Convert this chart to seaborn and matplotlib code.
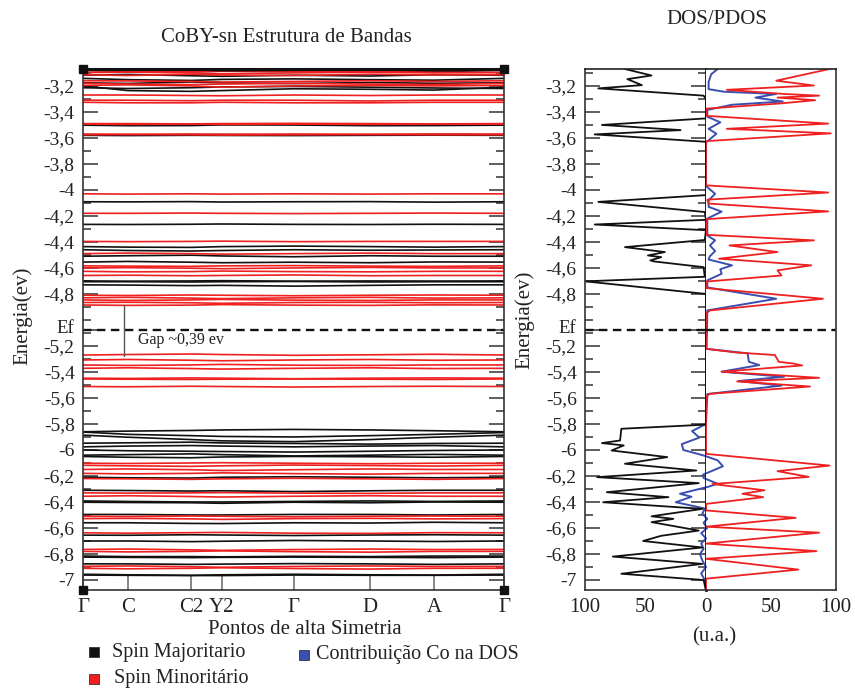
import numpy as np
import pandas as pd
import matplotlib
matplotlib.use("Agg")
import matplotlib.pyplot as plt
from matplotlib.patches import Rectangle
from matplotlib.ticker import FixedLocator, MultipleLocator, FuncFormatter
from matplotlib.transforms import ScaledTranslation
import seaborn as sns

# ---------------- data ----------------
E_F = -5.078
E_MIN, E_MAX = -7.077, -3.07

kpath = [0.0, 0.107, 0.257, 0.330, 0.501, 0.682, 0.834, 1.0]
klabels = ["Γ", "C", "C2", "Y2", "Γ", "D", "A", "Γ"]

# band energies (eV) at the high-symmetry points, spin majority
bands_major = [
    [-3.080, -3.088, -3.092, -3.086, -3.090, -3.084, -3.091, -3.080],
    [-3.118, -3.112, -3.122, -3.126, -3.118, -3.124, -3.114, -3.118],
    [-3.142, -3.152, -3.158, -3.150, -3.146, -3.152, -3.156, -3.142],
    [-3.176, -3.181, -3.170, -3.176, -3.182, -3.174, -3.180, -3.176],
    [-3.200, -3.236, -3.242, -3.236, -3.222, -3.226, -3.232, -3.210],
    [-3.214, -3.220, -3.214, -3.208, -3.204, -3.210, -3.216, -3.220],
    [-3.502, -3.506, -3.505, -3.500, -3.501, -3.506, -3.505, -3.502],
    [-3.576, -3.578, -3.575, -3.574, -3.578, -3.576, -3.574, -3.576],
    [-3.580, -3.582, -3.580, -3.581, -3.582, -3.580, -3.579, -3.580],
    [-4.091, -4.092, -4.090, -4.093, -4.091, -4.090, -4.094, -4.091],
    [-4.265, -4.266, -4.264, -4.262, -4.265, -4.266, -4.264, -4.265],
    [-4.436, -4.440, -4.442, -4.436, -4.432, -4.436, -4.440, -4.436],
    [-4.460, -4.466, -4.470, -4.466, -4.460, -4.464, -4.462, -4.460],
    [-4.510, -4.506, -4.502, -4.508, -4.514, -4.506, -4.510, -4.510],
    [-4.555, -4.550, -4.556, -4.560, -4.556, -4.560, -4.554, -4.555],
    [-4.700, -4.702, -4.700, -4.698, -4.702, -4.700, -4.701, -4.700],
    [-4.706, -4.706, -4.708, -4.706, -4.704, -4.708, -4.706, -4.706],
    [-4.730, -4.732, -4.736, -4.734, -4.740, -4.734, -4.730, -4.730],
    [-5.860, -5.855, -5.850, -5.846, -5.842, -5.846, -5.852, -5.860],
    [-5.862, -5.880, -5.890, -5.896, -5.900, -5.890, -5.880, -5.866],
    [-5.886, -5.902, -5.920, -5.930, -5.936, -5.920, -5.902, -5.886],
    [-5.948, -5.945, -5.940, -5.946, -5.950, -5.955, -5.950, -5.948],
    [-5.976, -5.970, -5.966, -5.970, -5.976, -5.970, -5.966, -5.976],
    [-6.000, -6.006, -6.010, -6.012, -6.016, -6.010, -6.004, -6.000],
    [-6.040, -6.036, -6.030, -6.036, -6.046, -6.040, -6.034, -6.040],
    [-6.050, -6.056, -6.060, -6.054, -6.050, -6.052, -6.056, -6.050],
    [-6.210, -6.214, -6.216, -6.210, -6.206, -6.210, -6.214, -6.210],
    [-6.310, -6.312, -6.316, -6.314, -6.320, -6.314, -6.310, -6.310],
    [-6.392, -6.396, -6.400, -6.400, -6.396, -6.392, -6.396, -6.392],
    [-6.402, -6.404, -6.406, -6.410, -6.402, -6.406, -6.400, -6.402],
    [-6.496, -6.496, -6.500, -6.500, -6.496, -6.496, -6.500, -6.496],
    [-6.560, -6.560, -6.565, -6.566, -6.560, -6.562, -6.556, -6.560],
    [-6.655, -6.656, -6.652, -6.654, -6.658, -6.654, -6.652, -6.655],
    [-6.700, -6.700, -6.705, -6.702, -6.696, -6.700, -6.704, -6.700],
    [-6.816, -6.820, -6.820, -6.822, -6.818, -6.820, -6.816, -6.816],
    [-6.824, -6.826, -6.828, -6.826, -6.824, -6.826, -6.828, -6.824],
    [-6.876, -6.876, -6.880, -6.878, -6.874, -6.876, -6.880, -6.876],
    [-6.956, -6.960, -6.964, -6.960, -6.956, -6.960, -6.962, -6.956],
    [-6.962, -6.964, -6.966, -6.966, -6.962, -6.964, -6.964, -6.962],
]

# band energies (eV) at the high-symmetry points, spin minority
bands_minor = [
    [-3.082, -3.086, -3.090, -3.082, -3.086, -3.090, -3.082, -3.082],
    [-3.098, -3.094, -3.100, -3.106, -3.100, -3.094, -3.100, -3.098],
    [-3.114, -3.120, -3.110, -3.116, -3.120, -3.110, -3.116, -3.114],
    [-3.160, -3.162, -3.166, -3.170, -3.166, -3.160, -3.166, -3.160],
    [-3.180, -3.186, -3.190, -3.186, -3.180, -3.186, -3.190, -3.180],
    [-3.196, -3.192, -3.200, -3.210, -3.200, -3.196, -3.200, -3.196],
    [-3.270, -3.270, -3.274, -3.276, -3.270, -3.274, -3.270, -3.270],
    [-3.310, -3.310, -3.314, -3.310, -3.310, -3.316, -3.310, -3.310],
    [-3.326, -3.330, -3.330, -3.326, -3.330, -3.330, -3.326, -3.326],
    [-3.490, -3.490, -3.492, -3.490, -3.488, -3.490, -3.492, -3.490],
    [-3.494, -3.496, -3.494, -3.496, -3.494, -3.496, -3.494, -3.494],
    [-3.570, -3.572, -3.570, -3.572, -3.570, -3.572, -3.570, -3.570],
    [-3.576, -3.574, -3.576, -3.578, -3.576, -3.574, -3.576, -3.576],
    [-4.030, -4.032, -4.030, -4.032, -4.030, -4.032, -4.030, -4.030],
    [-4.180, -4.180, -4.178, -4.180, -4.182, -4.180, -4.178, -4.180],
    [-4.396, -4.398, -4.396, -4.394, -4.398, -4.396, -4.396, -4.396],
    [-4.490, -4.486, -4.490, -4.494, -4.490, -4.486, -4.490, -4.490],
    [-4.584, -4.586, -4.588, -4.584, -4.582, -4.586, -4.588, -4.584],
    [-4.600, -4.598, -4.602, -4.606, -4.600, -4.596, -4.600, -4.600],
    [-4.626, -4.630, -4.628, -4.624, -4.628, -4.630, -4.626, -4.626],
    [-4.658, -4.656, -4.660, -4.658, -4.654, -4.660, -4.658, -4.658],
    [-4.810, -4.812, -4.808, -4.810, -4.814, -4.810, -4.808, -4.810],
    [-4.830, -4.826, -4.832, -4.836, -4.830, -4.826, -4.832, -4.830],
    [-4.846, -4.850, -4.846, -4.842, -4.848, -4.850, -4.846, -4.846],
    [-4.866, -4.864, -4.868, -4.872, -4.866, -4.864, -4.868, -4.866],
    [-4.885, -4.888, -4.886, -4.882, -4.886, -4.888, -4.884, -4.885],
    [-5.270, -5.266, -5.262, -5.266, -5.272, -5.268, -5.264, -5.270],
    [-5.308, -5.304, -5.310, -5.314, -5.308, -5.304, -5.310, -5.308],
    [-5.346, -5.350, -5.346, -5.342, -5.348, -5.350, -5.346, -5.346],
    [-5.372, -5.368, -5.374, -5.378, -5.372, -5.368, -5.374, -5.372],
    [-5.448, -5.450, -5.446, -5.448, -5.452, -5.448, -5.446, -5.448],
    [-5.454, -5.456, -5.458, -5.456, -5.454, -5.456, -5.458, -5.454],
    [-5.512, -5.514, -5.510, -5.512, -5.516, -5.512, -5.510, -5.512],
    [-6.102, -6.104, -6.100, -6.098, -6.102, -6.106, -6.102, -6.102],
    [-6.118, -6.122, -6.126, -6.122, -6.116, -6.120, -6.124, -6.118],
    [-6.150, -6.146, -6.152, -6.158, -6.152, -6.146, -6.150, -6.150],
    [-6.180, -6.184, -6.180, -6.176, -6.182, -6.186, -6.180, -6.180],
    [-6.220, -6.222, -6.226, -6.222, -6.218, -6.222, -6.226, -6.220],
    [-6.330, -6.332, -6.330, -6.328, -6.332, -6.334, -6.330, -6.330],
    [-6.356, -6.352, -6.358, -6.362, -6.356, -6.352, -6.356, -6.356],
    [-6.510, -6.512, -6.508, -6.510, -6.514, -6.510, -6.508, -6.510],
    [-6.528, -6.526, -6.530, -6.534, -6.528, -6.526, -6.530, -6.528],
    [-6.637, -6.640, -6.636, -6.634, -6.640, -6.642, -6.636, -6.637],
    [-6.765, -6.762, -6.768, -6.772, -6.766, -6.762, -6.766, -6.765],
    [-6.780, -6.784, -6.780, -6.776, -6.782, -6.786, -6.780, -6.780],
    [-6.895, -6.892, -6.898, -6.902, -6.896, -6.892, -6.896, -6.895],
    [-6.910, -6.914, -6.910, -6.906, -6.912, -6.916, -6.910, -6.910],
]

# total DOS, spin majority (plotted to the left)
dos_major_E = [-3.07, -3.12, -3.148, -3.194, -3.219, -3.275, -3.30, -3.45, -3.50, -3.54,
               -3.573, -3.63, -4.04, -4.092, -4.17, -4.23, -4.266, -4.31, -4.385, -4.44,
               -4.478, -4.504, -4.517, -4.542, -4.55, -4.594, -4.668, -4.703, -4.80, -5.805,
               -5.837, -5.927, -5.947, -5.965, -6.004, -6.055, -6.106, -6.158, -6.209, -6.255,
               -6.325, -6.363, -6.402, -6.453, -6.51, -6.53, -6.555, -6.62, -6.66, -6.70,
               -6.75, -6.82, -6.876, -6.952, -7.0, -7.08]
dos_major = [-67, -45, -65, -53, -89, -2, 0, 0, -86, -21,
             -92, 0, 0, -89, -1, 0, -92, 0, -1, -67,
             -34, -48, -37, -46, -43, -2, -1, -100, 0, 0,
             -70, -71, -86, -68, -78, -32, -67, -8, -90, -6,
             -82, -31, -85, -3, -45, -27, -45, -6, -37, -52,
             -3, -77, -3, -70, -2, 0]

# total DOS, spin minority (plotted to the right)
dos_minor_E = [-3.07, -3.16, -3.197, -3.23, -3.262, -3.275, -3.29, -3.31, -3.335, -3.375,
               -3.43, -3.49, -3.53, -3.565, -3.625, -3.965, -4.02, -4.075, -4.105, -4.165,
               -4.225, -4.345, -4.388, -4.427, -4.478, -4.529, -4.58, -4.619, -4.658, -4.705,
               -4.755, -4.837, -4.927, -4.95, -5.222, -5.25, -5.27, -5.322, -5.335, -5.35,
               -5.398, -5.445, -5.473, -5.512, -5.568, -5.59, -6.03, -6.12, -6.163, -6.207,
               -6.262, -6.31, -6.337, -6.363, -6.415, -6.465, -6.522, -6.59, -6.636, -6.72,
               -6.778, -6.837, -6.92, -6.99, -7.08]
dos_minor = [95, 54, 83, 16, 60, 87, 55, 84, 57, 0,
             0, 94, 16, 96, 0, 0, 94, 1, 2, 94,
             0, 0, 83, 18, 55, 10, 81, 55, 58, 0,
             0, 90, 3, 0, 0, 23, 53, 56, 67, 74,
             12, 87, 24, 80, 3, 0, 0, 95, 55, 79,
             5, 45, 28, 44, 0, 0, 69, 0, 87, 0,
             85, 0, 71, 0, 0]

# Co projected DOS (minority positive, majority negative)
pdos_co_E = [-3.07, -3.11, -3.17, -3.225, -3.245, -3.262, -3.29, -3.32, -3.345, -3.385,
             -3.437, -3.48, -3.53, -3.568, -3.635, -3.97, -4.03, -4.08, -4.13, -4.167,
             -4.22, -4.35, -4.388, -4.427, -4.47, -4.51, -4.535, -4.58, -4.61, -4.645,
             -4.696, -4.75, -4.837, -4.927, -5.222, -5.257, -5.322, -5.347, -5.398, -5.437,
             -5.47, -5.505, -5.57, -5.80, -5.855, -5.905, -5.955, -6.0, -6.045, -6.08,
             -6.125, -6.168, -6.19, -6.215, -6.26, -6.285, -6.337, -6.36, -6.402, -6.45,
             -6.49, -6.53, -6.56, -6.60, -6.64, -6.68, -6.72, -6.76, -6.80, -6.85,
             -6.90, -6.95, -7.0, -7.08]
pdos_co = [9, 4, 2, 2, 14, 54, 38, 59, 20, 1,
           1, 11, 2, 8, 0, 0, 7, 2, 2, 12,
           1, 1, 7, 3, 7, 3, 2, 20, 11, 12,
           1, 1, 54, 1, 0.5, 32, 33, 41, 12, 60,
           25, 58, 1, 0, -11.5, -5.5, -20, -18.7, -1, 9,
           13, 3, -2.5, -2, 9, 1, -21.5, -12, -25, -1,
           -3, 1, -2, 1, -4, 0, -4, -2, -5, -3,
           0, -4, -1, 0]

GAP_TOP, GAP_BOTTOM = -4.885, -5.275

# ---------------- style ----------------
sns.set_theme(style="white")
plt.rcParams["font.family"] = ["Liberation Serif", "DejaVu Serif"]

BLACK = "#111111"
RED = "#ee2020"
BLUE = "#3a4fb0"
EDGE = "#333333"

W, H = 855, 692
fig = plt.figure(figsize=(W / 100, H / 100), dpi=100)
fig.patch.set_facecolor("white")


def rect(x0, y0, x1, y1):
    return [x0 / W, 1 - y1 / H, (x1 - x0) / W, (y1 - y0) / H]


major_E = [-3.2, -3.4, -3.6, -3.8, -4.0, -4.2, -4.4, -4.6, -4.8, E_F,
           -5.2, -5.4, -5.6, -5.8, -6.0, -6.2, -6.4, -6.6, -6.8, -7.0]


def e_label(v, pos=None):
    if abs(v - E_F) < 1e-6:
        return "Ef"
    if abs(v - round(v)) < 1e-6:
        return f"{int(round(v))}"
    return f"{v:.1f}".replace(".", ",")


def style_energy_axis(ax, labels=True):
    ax.set_ylim(E_MIN, E_MAX)
    ax.yaxis.set_major_locator(FixedLocator(major_E))
    ax.yaxis.set_minor_locator(MultipleLocator(0.1))
    ax.yaxis.set_major_formatter(FuncFormatter(e_label))
    ax.tick_params(axis="y", which="both", direction="in", left=True, right=True,
                   colors=EDGE, labelcolor="#222222", width=1.1, labelsize=14,
                   pad=6, labelleft=labels)
    ax.tick_params(axis="y", which="major", length=11)
    ax.tick_params(axis="y", which="minor", length=5.5)
    ax.set_ylabel("")


def lift_fermi_label(ax):
    # nudge the "Ef" label up a little so it clears the -5,2 label below it
    fig.canvas.draw()
    for lbl in ax.get_yticklabels():
        if lbl.get_text() == "Ef":
            lbl.set_fontsize(13.5)
            lbl.set_transform(lbl.get_transform()
                              + ScaledTranslation(0, 2.5 / 72, fig.dpi_scale_trans))


# ---------------- band structure ----------------
axb = fig.add_axes(rect(83, 69, 504, 590))

rows = []
for spin, bands in (("maj", bands_major), ("min", bands_minor)):
    for i, band in enumerate(bands):
        for k, e in zip(kpath, band):
            rows.append((spin, f"{spin}{i}", k, e))
df_bands = pd.DataFrame(rows, columns=["spin", "band", "k", "E"])

sns.lineplot(data=df_bands[df_bands.spin == "maj"], x="k", y="E", units="band",
             estimator=None, sort=False, color=BLACK, lw=1.2, ax=axb)
sns.lineplot(data=df_bands[df_bands.spin == "min"], x="k", y="E", units="band",
             estimator=None, sort=False, color=RED, lw=1.2, ax=axb)

axb.axhline(E_F, color=BLACK, lw=1.7, ls=(0, (3.6, 2.3)))
axb.set_xlim(0, 1)
axb.set_xticks(kpath)
axb.set_xticklabels(klabels)
axb.set_xlabel("")
axb.tick_params(axis="x", direction="in", length=10, width=1.1, colors="#666666",
                labelcolor="#222222", labelsize=15, pad=6, bottom=True, top=False)
style_energy_axis(axb)
for name, sp in axb.spines.items():
    sp.set_color(EDGE)
    sp.set_linewidth(1.2)
axb.spines["top"].set_color(BLACK)
axb.spines["top"].set_linewidth(2.2)
axb.plot([0, 1, 0, 1], [0, 0, 1, 1], "s", ms=6, color=BLACK,
         transform=axb.transAxes, clip_on=False, zorder=5)

# gap marker
k_gap = 0.097
axb.plot([k_gap, k_gap], [GAP_TOP, GAP_BOTTOM], color="#555555", lw=1.0)
axb.text(0.131, (GAP_TOP + GAP_BOTTOM) / 2 - 0.075,
         f"Gap ~{abs(GAP_TOP - GAP_BOTTOM):.2f} ev".replace(".", ","),
         fontsize=11.5, va="center", ha="left", color="#222222")

# ---------------- DOS / PDOS ----------------
axl = fig.add_axes(rect(585, 69, 706, 590))
axr = fig.add_axes(rect(706, 69, 836, 590), sharey=axl)

for ax in (axl, axr):
    sns.lineplot(x=pdos_co, y=pdos_co_E, sort=False, estimator=None, color=BLUE,
                 lw=1.4, ax=ax)
sns.lineplot(x=dos_major, y=dos_major_E, sort=False, estimator=None, color=BLACK,
             lw=1.3, ax=axl)
sns.lineplot(x=dos_minor, y=dos_minor_E, sort=False, estimator=None, color=RED,
             lw=1.3, ax=axr)

for ax in (axl, axr):
    ax.axhline(E_F, color=BLACK, lw=1.7, ls=(0, (3.6, 2.3)))

axl.set_xlim(-100, 0)
axr.set_xlim(0, 100)
axl.xaxis.set_major_locator(FixedLocator([-100, -75, -50, -25, 0]))
axr.xaxis.set_major_locator(FixedLocator([25, 50, 75, 100]))
dos_fmt = FuncFormatter(lambda v, p: f"{abs(int(round(v)))}" if round(v) % 50 == 0 else "")
for ax in (axl, axr):
    ax.xaxis.set_major_formatter(dos_fmt)
    ax.tick_params(axis="x", direction="in", length=10, width=1.1, colors="#555555",
                   labelcolor="#222222", labelsize=15, pad=6)
    ax.set_xlabel("")
    for sp in ax.spines.values():
        sp.set_color(EDGE)
        sp.set_linewidth(1.2)

style_energy_axis(axl)
axr.tick_params(axis="y", which="both", left=False, right=False, labelleft=False)
axl.spines["right"].set_color(BLACK)
axl.spines["right"].set_linewidth(2.0)
axl.spines["right"].set_zorder(4)
axr.spines["left"].set_visible(False)
axl.spines["top"].set_color("#222222")
axr.spines["top"].set_color("#222222")

lift_fermi_label(axb)
lift_fermi_label(axl)

# ---------------- texts ----------------
fig.text(286 / W, 1 - 38 / H, "CoBY-sn Estrutura de Bandas", ha="center", va="center",
         fontsize=15, color="#222222")
fig.text(717 / W, 1 - 20 / H, "DOS/PDOS", ha="center", va="center", fontsize=15,
         color="#222222")
fig.text(305 / W, 1 - 630 / H, "Pontos de alta Simetria", ha="center", va="center",
         fontsize=15, color="#222222")
fig.text(714 / W, 1 - 637 / H, "(u.a.)", ha="center", va="center", fontsize=15,
         color="#222222")
fig.text(23 / W, 1 - 316 / H, "Energia(ev)", rotation=90, ha="center", va="center",
         fontsize=15, color="#222222")
fig.text(525 / W, 1 - 320 / H, "Energia(ev)", rotation=90, ha="center", va="center",
         fontsize=15, color="#222222")

# legend entries
legend_items = [("Spin Majoritario", BLACK, 94, 652, 112),
                ("Spin Minoritário", RED, 94, 679, 114),
                ("Contribuição Co na DOS", BLUE, 304, 655, 316)]
for label, col, sx, sy, tx in legend_items:
    fig.add_artist(Rectangle(((sx - 5) / W, 1 - (sy + 5) / H), 10 / W, 10 / H,
                             transform=fig.transFigure, facecolor=col,
                             edgecolor="#333333", lw=0.6))
    fig.text(tx / W, 1 - sy / H, label, ha="left", va="center", fontsize=14.5,
             color="#222222")

fig.savefig("out.png", dpi=100, facecolor="white")
